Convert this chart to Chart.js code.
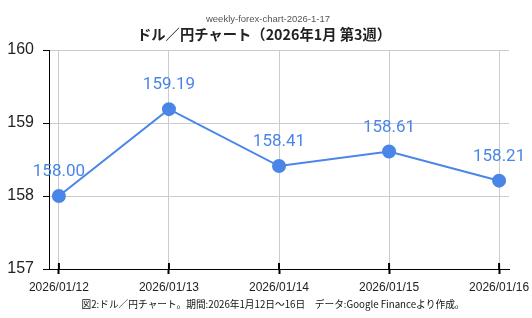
<!DOCTYPE html>
<html><head><meta charset="utf-8">
<script src="https://cdn.jsdelivr.net/npm/chart.js@4/dist/chart.umd.min.js"></script>
<style>html,body{margin:0;padding:0;background:#fff}#wrap{width:532px;height:318px;position:relative}</style>
</head><body><div id="wrap"><canvas id="c" width="532" height="318"></canvas></div>
<script>
const categories = ["2026/01/12","2026/01/13","2026/01/14","2026/01/15","2026/01/16"];
const values = [158.00, 159.19, 158.41, 158.61, 158.21];
const yTicks = [157, 158, 159, 160];
const subtitleText = "weekly-forex-chart-2026-1-17";
const titleText = "ドル／円チャート（2026年1月 第3週）";
const captionText = "図2:ドル／円チャート。期間:2026年1月12日～16日　データ:Google Financeより作成。";

const blue = "#4a86e8";
const jp = "'Noto Sans CJK JP', 'Noto Sans', sans-serif";

const decor = {
  id: 'decor',
  afterDatasetsDraw(chart) {
    const ctx = chart.ctx;
    const xs = chart.scales.x, ys = chart.scales.y;
    ctx.save();
    ctx.strokeStyle = '#000'; ctx.lineWidth = 2;
    xs.ticks.forEach(t => {
      const px = xs.getPixelForValue(t.value);
      ctx.beginPath(); ctx.moveTo(px, ys.bottom - 6); ctx.lineTo(px, ys.bottom); ctx.stroke();
    });
    const meta = chart.getDatasetMeta(0);
    ctx.fillStyle = blue;
    ctx.font = "17px Roboto, sans-serif";
    ctx.textAlign = 'center'; ctx.textBaseline = 'middle';
    meta.data.forEach((p, i) => {
      ctx.fillText(values[i].toFixed(2), p.x, p.y - 24);
    });
    ctx.fillStyle = '#555';
    ctx.font = "9.5px 'Liberation Sans', Arial, sans-serif";
    ctx.fillText(subtitleText, 268, 19);
    ctx.fillStyle = '#222';
    ctx.font = "bold 14.3px " + jp;
    ctx.fillText(titleText, 264, 35);
    ctx.fillStyle = '#111';
    ctx.font = "9.7px " + jp;
    ctx.fillText(captionText, 273, 304);
    ctx.restore();
  }
};

new Chart(document.getElementById('c'), {
  type: 'line',
  data: {
    datasets: [{
      data: values.map((v, i) => ({x: i, y: v})),
      borderColor: blue,
      backgroundColor: blue,
      borderWidth: 2,
      pointRadius: 6,
      pointHoverRadius: 6,
      pointBackgroundColor: blue,
      pointBorderColor: blue,
      tension: 0,
      clip: false
    }]
  },
  options: {
    responsive: false,
    animation: false,
    events: [],
    layout: {padding: {top: 50, right: 23, bottom: 20, left: 0}},
    plugins: {legend: {display: false}, tooltip: {enabled: false}},
    scales: {
      x: {
        type: 'linear',
        min: -0.09, max: 4.09,
        afterBuildTicks: s => { s.ticks = categories.map((c, i) => ({value: i})); },
        afterFit: s => { s.height = 29; s.paddingLeft = 0; s.paddingRight = 0; },
        ticks: {
          autoSkip: false, maxRotation: 0, padding: 6,
          color: '#222', font: {size: 12, family: "'Liberation Sans', Arial, sans-serif"},
          callback: v => categories[v]
        },
        grid: {color: '#cccccc', lineWidth: 1, tickColor: '#000', tickLength: 5, tickWidth: 2},
        border: {color: '#000', width: 1}
      },
      y: {
        min: 157, max: 160,
        afterBuildTicks: s => { s.ticks = yTicks.map(v => ({value: v})); },
        afterFit: s => { s.width = 49; s.paddingTop = 0; s.paddingBottom = 0; },
        ticks: {
          padding: 9, color: '#222',
          font: {size: 16, family: "'Liberation Sans', Arial, sans-serif"}
        },
        grid: {color: '#cccccc', lineWidth: 1, tickColor: '#000', tickLength: 6},
        border: {color: '#000', width: 1}
      }
    }
  },
  plugins: [decor]
});
</script></body></html>
